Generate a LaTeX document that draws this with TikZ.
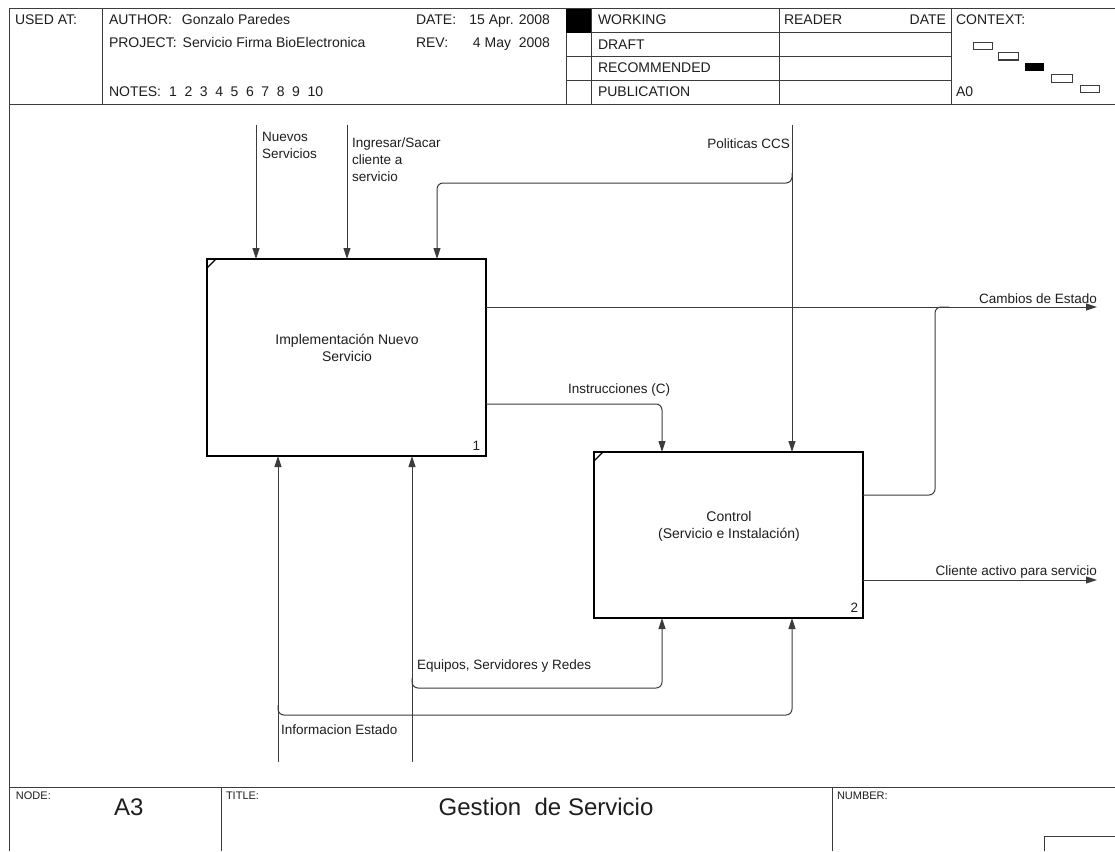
\documentclass[tikz,border=0pt]{standalone}
\usepackage{fontspec}
\setmainfont{Liberation Sans}
\usetikzlibrary{arrows.meta}
\definecolor{ink}{HTML}{1E1E1E}
\definecolor{rule}{HTML}{3C3C3C}
\newcommand\hdrfont{\fontsize{14}{17}\selectfont}
\newcommand\lblfont{\fontsize{13.5}{17}\selectfont}
\newcommand\boxfont{\fontsize{14}{17}\selectfont}
\newcommand\smlfont{\fontsize{11}{13}\selectfont}
\newcommand\ttlfont{\fontsize{24}{29}\selectfont}
\newcommand\notegap{\hspace{7.6pt}}
\begin{document}
\begin{tikzpicture}[x=1pt,y=-1pt,
  every node/.style={inner sep=0pt, outer sep=0pt, text=ink},
  frameline/.style={draw=rule, line width=1pt},
  procbox/.style={draw=black, line width=2pt, inner sep=0pt, outer sep=0pt},
  flow/.style={draw=rule, line width=1pt},
  arr/.style={flow, -{Triangle[length=11pt,width=7pt]}},
  bent/.style={rounded corners=6pt},
  hdr/.style={font=\hdrfont, anchor=base west},
  lbl/.style={font=\lblfont, align=left},
]
\useasboundingbox (0,0) rectangle (1115,851);
\fill[white] (0,0) rectangle (1115,851);

% ---------- header block ----------
\draw[frameline] (9,851) -- (9,9) -- (1115,9);
\draw[frameline] (9,104) -- (1115,104);
\foreach \x in {102,566,591,779,951} \draw[frameline] (\x,9) -- (\x,104);
\foreach \y in {33,57,80} \draw[frameline] (566,\y) -- (951,\y);
\fill[black] (566,9) rectangle (591,33);

\node[hdr] (usedat) at (15,25) {USED AT:};
\node[hdr] (author) at (109,25) {AUTHOR:\hspace{10pt}Gonzalo Paredes};
\node[hdr] (project) at (109,48) {PROJECT:\hspace{6pt}Servicio Firma BioElectronica};
\node[hdr] (notes) at (109,96) {NOTES:\hspace{8pt}1\notegap 2\notegap 3\notegap 4\notegap 5\notegap 6\notegap 7\notegap 8\notegap 9\notegap 10};
\node[hdr] (datek) at (416,25) {DATE:};
\node[hdr, anchor=base east] (datev) at (550,25) {15 Apr. 2008};
\node[hdr] (revk) at (416,48) {REV:};
\node[hdr, anchor=base east] (revv) at (550,48) {4 May\ \ 2008};
\node[hdr] (working) at (598,25) {WORKING};
\node[hdr] (draft) at (598,49) {DRAFT};
\node[hdr] (recom) at (598,72) {RECOMMENDED};
\node[hdr] (publ) at (598,96) {PUBLICATION};
\node[hdr] (reader) at (784,25) {READER};
\node[hdr, anchor=base east] (rdate) at (946,25) {DATE};
\node[hdr] (context) at (956,25) {CONTEXT:};
\node[hdr] (azero) at (956,96) {A0};

% context map
\draw[frameline] (973,43) rectangle (992,50);
\draw[frameline] (998,53) rectangle (1018,60);
\fill[black] (1025,63) rectangle (1044,71);
\draw[frameline] (1051,74) rectangle (1072,82);
\draw[frameline] (1080,85) rectangle (1099,92);

% ---------- footer block ----------
\draw[frameline] (9,787) -- (1115,787);
\draw[frameline] (221,787) -- (221,851);
\draw[frameline] (832,787) -- (832,851);
\draw[frameline] (1044,851) -- (1044,836) -- (1115,836);
\node[font=\smlfont, anchor=base west] (nodek) at (16,799) {NODE:};
\node[font=\ttlfont, anchor=base west] (nodev) at (114,815) {A3};
\node[font=\smlfont, anchor=base west] (titlek) at (226,799) {TITLE:};
\node[font=\ttlfont, anchor=base] (titlev) at (546,815) {Gestion\ \ de Servicio};
\node[font=\smlfont, anchor=base west] (numberk) at (837,799) {NUMBER:};

% ---------- activity boxes ----------
\node[procbox, minimum width=279pt, minimum height=197pt] (b1) at (346.5,357.5) {};
\node[procbox, minimum width=269pt, minimum height=166pt] (b2) at (728.5,535) {};
\node[font=\boxfont, align=center] (t1) at (347,348) {Implementación Nuevo\\Servicio};
\node[font=\boxfont, align=center] (t2) at (729,526) {Control\\(Servicio e Instalación)};
\draw[line width=1.2pt] (b1.north west) ++(0,9) -- ++(9,-9);
\draw[line width=1.2pt] (b2.north west) ++(0,9) -- ++(9,-9);
\node[font=\lblfont, anchor=base east] (n1) at (480,450) {1};
\node[font=\lblfont, anchor=base east] (n2) at (858,612) {2};

% ---------- connector end points ----------
\coordinate (nuevosIn) at (256,125);
\coordinate (ingIn) at (347,125);
\coordinate (polIn) at (792,125);
\coordinate (polJ) at (792,183);
\coordinate (polDrop) at (437,183);
\coordinate (cambOut) at (1097,307);
\coordinate (cambJ) at (935,307);
\coordinate (cambLow) at (935,495);
\coordinate (instTurn) at (662,404);
\coordinate (cliOut) at (1097,580);
\coordinate (infoIn) at (278,762);
\coordinate (infoJ) at (278,715);
\coordinate (infoTurn) at (792,715);
\coordinate (eqIn) at (412,762);
\coordinate (eqJ) at (412,688);
\coordinate (eqTurn) at (662,688);

% controls and inputs from above
\draw[arr] (nuevosIn) -- (nuevosIn |- b1.north);
\draw[arr] (ingIn) -- (ingIn |- b1.north);
\draw[arr] (polIn) -- (polIn |- b2.north);
\draw[arr,bent] (polJ) ++(0,-10) -- (polJ) -- (polDrop) -- (polDrop |- b1.north);

% outputs
\draw[arr] (b1.east |- cambOut) -- (cambOut);
\draw[flow,bent] (b2.east |- cambLow) -- (cambLow) -- (cambJ) -- ++(14,0);
\draw[arr,bent] (b1.east |- instTurn) -- (instTurn) -- (instTurn |- b2.north);
\draw[arr] (b2.east |- cliOut) -- (cliOut);

% mechanisms from below
\draw[arr] (infoIn) -- (infoIn |- b1.south);
\draw[arr,bent] (infoJ) ++(0,-10) -- (infoJ) -- (infoTurn) -- (infoTurn |- b2.south);
\draw[arr] (eqIn) -- (eqIn |- b1.south);
\draw[arr,bent] (eqJ) ++(0,-10) -- (eqJ) -- (eqTurn) -- (eqTurn |- b2.south);

% arrow labels
\node[lbl, anchor=north west] (lnuevos) at (262,132) {Nuevos\\Servicios};
\node[lbl, anchor=north west] (lingresar) at (352,138) {Ingresar/Sacar\\cliente a\\servicio};
\node[lbl, anchor=base east] (lpol) at (790,148) {Politicas CCS};
\node[lbl, anchor=base east] (lcamb) at (1097,303) {Cambios de Estado};
\node[lbl, anchor=base west] (linst) at (568,393) {Instrucciones (C)};
\node[lbl, anchor=base east] (lcli) at (1097,575) {Cliente activo para servicio};
\node[lbl, anchor=base west] (leq) at (417,669) {Equipos, Servidores y Redes};
\node[lbl, anchor=base west] (linfo) at (281,734) {Informacion Estado};
\end{tikzpicture}
\end{document}
